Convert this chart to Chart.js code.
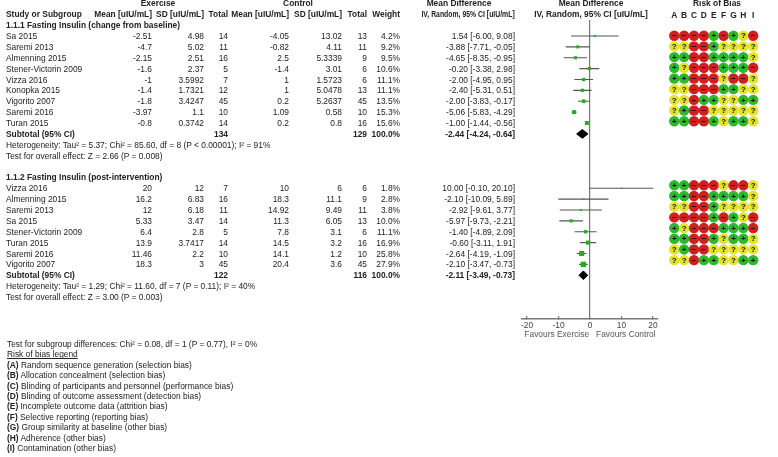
<!DOCTYPE html>
<html>
<head>
<meta charset="utf-8">
<script src="https://cdn.jsdelivr.net/npm/chart.js@4.4.1/dist/chart.umd.min.js"></script>
<style>
  html, body { margin: 0; padding: 0; background: #fff; }
  #wrap { position: relative; width: 778px; height: 457px; overflow: hidden;
          font-family: 'Liberation Sans', Arial, sans-serif; font-size: 8.4px; color: #222; }
  #plot { position: absolute; left: 0; top: 0; }
  #rob { position: absolute; left: 660px; top: 0; }
  .t { position: absolute; white-space: nowrap; line-height: 10px; }
  .b { font-weight: bold; }
  .u { text-decoration: underline; }
</style>
</head>
<body>
<div id="wrap">
  <canvas id="plot" width="778" height="457"></canvas>
  <canvas id="rob" width="110" height="319"></canvas>
</div>
<script>
// ---- subgroup 1.1.1 (change from baseline) ----
const sub1Study = ['Sa 2015', 'Saremi 2013', 'Almenning 2015', 'Stener-Victorin 2009', 'Vizza 2016',
                   'Konopka 2015', 'Vigorito 2007', 'Saremi 2016', 'Turan 2015'];
const sub1ExMean = [-2.51, -4.7, -2.15, -1.6, -1, -1.4, -1.8, -3.97, -0.8];
const sub1ExSD = [4.98, 5.02, 2.51, 2.37, 3.5992, 1.7321, 3.4247, 1.1, 0.3742];
const sub1ExN = [14, 11, 16, 5, 7, 12, 45, 10, 14];
const sub1CtMean = [-4.05, -0.82, 2.5, -1.4, 1, 1, 0.2, 1.09, 0.2];
const sub1CtSD = [13.02, 4.11, 5.3339, 3.01, 1.5723, 5.0478, 5.2637, 0.58, 0.8];
const sub1CtN = [13, 11, 9, 6, 6, 13, 45, 10, 16];
const sub1Weight = [4.2, 9.2, 9.5, 10.6, 11.1, 11.1, 13.5, 15.3, 15.6];
const sub1MD = [1.54, -3.88, -4.65, -0.20, -2.00, -2.40, -2.00, -5.06, -1.00];
const sub1Lo = [-6.00, -7.71, -8.35, -3.38, -4.95, -5.31, -3.83, -5.83, -1.44];
const sub1Hi = [9.08, -0.05, -0.95, 2.98, 0.95, 0.51, -0.17, -4.29, -0.56];
const sub1Total = [134, 129, -2.44, -4.24, -0.64];  // ex N, ctl N, MD, lo, hi
const sub1Het = 'Heterogeneity: Tau² = 5.37; Chi² = 85.60, df = 8 (P < 0.00001); I² = 91%';
const sub1Z = 'Test for overall effect: Z = 2.66 (P = 0.008)';

// ---- subgroup 1.1.2 (post-intervention) ----
const sub2Study = ['Vizza 2016', 'Almenning 2015', 'Saremi 2013', 'Sa 2015', 'Stener-Victorin 2009',
                   'Turan 2015', 'Saremi 2016', 'Vigorito 2007'];
const sub2ExMean = [20, 16.2, 12, 5.33, 6.4, 13.9, 11.46, 18.3];
const sub2ExSD = [12, 6.83, 6.18, 3.47, 2.8, 3.7417, 2.2, 3];
const sub2ExN = [7, 16, 11, 14, 5, 14, 10, 45];
const sub2CtMean = [10, 18.3, 14.92, 11.3, 7.8, 14.5, 14.1, 20.4];
const sub2CtSD = [6, 11.1, 9.49, 6.05, 3.1, 3.2, 1.2, 3.6];
const sub2CtN = [6, 9, 11, 13, 6, 16, 10, 45];
const sub2Weight = [1.8, 2.8, 3.8, 10.0, 11.1, 16.9, 25.8, 27.9];
const sub2MD = [10.00, -2.10, -2.92, -5.97, -1.40, -0.60, -2.64, -2.10];
const sub2Lo = [-0.10, -10.09, -9.61, -9.73, -4.89, -3.11, -4.19, -3.47];
const sub2Hi = [20.10, 5.89, 3.77, -2.21, 2.09, 1.91, -1.09, -0.73];
const sub2Total = [122, 116, -2.11, -3.49, -0.73];
const sub2Het = 'Heterogeneity: Tau² = 1.29; Chi² = 11.60, df = 7 (P = 0.11); I² = 40%';
const sub2Z = 'Test for overall effect: Z = 3.00 (P = 0.003)';

// ---- risk of bias ----
const biasDomain = ['A', 'B', 'C', 'D', 'E', 'F', 'G', 'H', 'I'];
const biasByStudy = {
  'Sa 2015': '----+-+?-',
  'Saremi 2013': '??--+????',
  'Almenning 2015': '++--++++?',
  'Stener-Victorin 2009': '+?---+++-',
  'Vizza 2016': '++---?--?',
  'Konopka 2015': '??---++??',
  'Vigorito 2007': '??-++??++',
  'Saremi 2016': '?+--?????',
  'Turan 2015': '++--+?++?'
};
const biasLegend = ['Random sequence generation (selection bias)', 'Allocation concealment (selection bias)',
  'Blinding of participants and personnel (performance bias)', 'Blinding of outcome assessment (detection bias)',
  'Incomplete outcome data (attrition bias)', 'Selective reporting (reporting bias)',
  'Group similarity at baseline (other bias)', 'Adherence (other bias)', 'Contamination (other bias)'];
const subgroupTest = 'Test for subgroup differences: Chi² = 0.08, df = 1 (P = 0.77), I² = 0%';
const xTicks = [-20, -10, 0, 10, 20];

// layout
const rowStep = 10.875;
const rowY = L => 36 + (L - 3) * rowStep;
const yMin = 3 - 16 / rowStep, yMax = yMin + 299 / rowStep;
const col = { name: 6, exM: 152, exSD: 204, exN: 228, ctM: 289, ctSD: 342, ctN: 367, w: 400, ci: 515 };
const biasColor = { '+': '#2eb82e', '-': '#cf1f1f', '?': '#e3e32a' };
const biasSign = { '+': '+', '-': '\u2212', '?': '?' };

const groups = [
  { title: '1.1.1 Fasting Insulin (change from baseline)', start: 2, study: sub1Study, exM: sub1ExMean, exSD: sub1ExSD,
    exN: sub1ExN, ctM: sub1CtMean, ctSD: sub1CtSD, ctN: sub1CtN, w: sub1Weight, md: sub1MD, lo: sub1Lo, hi: sub1Hi,
    tot: sub1Total, het: sub1Het, z: sub1Z },
  { title: '1.1.2 Fasting Insulin (post-intervention)', start: 16, study: sub2Study, exM: sub2ExMean, exSD: sub2ExSD,
    exN: sub2ExN, ctM: sub2CtMean, ctSD: sub2CtSD, ctN: sub2CtN, w: sub2Weight, md: sub2MD, lo: sub2Lo, hi: sub2Hi,
    tot: sub2Total, het: sub2Het, z: sub2Z }
];

// ---- text ----
const wrap = document.getElementById('wrap');
function put(txt, x, y, align, cls) {
  const s = document.createElement('span');
  s.className = 't' + (cls ? ' ' + cls : '');
  s.textContent = txt;
  s.style.left = x + 'px';
  s.style.top = (y - 5) + 'px';
  if (align === 'r') s.style.transform = 'translateX(-100%)';
  if (align === 'c') s.style.transform = 'translateX(-50%)';
  wrap.appendChild(s);
  return s;
}
const ci = (m, l, h) => m.toFixed(2) + ' [' + l.toFixed(2) + ', ' + h.toFixed(2) + ']';

put('Exercise', 158, rowY(0), 'c', 'b');
put('Control', 298, rowY(0), 'c', 'b');
put('Mean Difference', 459, rowY(0), 'c', 'b');
put('Mean Difference', 591, rowY(0), 'c', 'b');
put('Risk of Bias', 717, rowY(0), 'c', 'b');
put('Study or Subgroup', col.name, rowY(1), 'l', 'b');
put('Mean [uIU/mL]', col.exM, rowY(1), 'r', 'b');
put('SD [uIU/mL]', col.exSD, rowY(1), 'r', 'b');
put('Total', col.exN, rowY(1), 'r', 'b');
put('Mean [uIU/mL]', col.ctM, rowY(1), 'r', 'b');
put('SD [uIU/mL]', col.ctSD, rowY(1), 'r', 'b');
put('Total', col.ctN, rowY(1), 'r', 'b');
put('Weight', col.w, rowY(1), 'r', 'b');
// this header is squeezed into its column in the original
const ivHead = put('IV, Random, 95% CI [uIU/mL]', col.ci, rowY(1), 'r', 'b');
ivHead.style.left = 'auto';
ivHead.style.right = (778 - col.ci) + 'px';
ivHead.style.transformOrigin = '100% 50%';
ivHead.style.transform = 'scaleX(0.82)';
put('IV, Random, 95% CI [uIU/mL]', 591, rowY(1), 'c', 'b');

groups.forEach(g => {
  put(g.title, col.name, rowY(g.start), 'l', 'b');
  g.study.forEach((s, i) => {
    const y = rowY(g.start + 1 + i);
    put(s, col.name, y, 'l');
    put(String(g.exM[i]), col.exM, y, 'r');
    put(String(g.exSD[i]), col.exSD, y, 'r');
    put(String(g.exN[i]), col.exN, y, 'r');
    put(String(g.ctM[i]), col.ctM, y, 'r');
    put(String(g.ctSD[i]), col.ctSD, y, 'r');
    put(String(g.ctN[i]), col.ctN, y, 'r');
    put(g.w[i].toFixed(1) + '%', col.w, y, 'r');
    put(ci(g.md[i], g.lo[i], g.hi[i]), col.ci, y, 'r');
  });
  const L = g.start + 1 + g.study.length;
  put('Subtotal (95% CI)', col.name, rowY(L), 'l', 'b');
  put(String(g.tot[0]), col.exN, rowY(L), 'r', 'b');
  put(String(g.tot[1]), col.ctN, rowY(L), 'r', 'b');
  put('100.0%', col.w, rowY(L), 'r', 'b');
  put(ci(g.tot[2], g.tot[3], g.tot[4]), col.ci, rowY(L), 'r', 'b');
  put(g.het, col.name, rowY(L + 1), 'l');
  put(g.z, col.name, rowY(L + 2), 'l');
});

put(subgroupTest, 7, 344, 'l');
put('Risk of bias legend', 7, 354.3, 'l', 'u');
biasLegend.forEach((t, i) => {
  const s = put('', 7, 364.7 + i * 10.4, 'l');
  s.innerHTML = '<b>(' + biasDomain[i] + ')</b> ' + t;
});

// ---- forest plot ----
const ciPts = [], sqPts = [], diamonds = [], robPts = [];
const dh = 0.4;
groups.forEach(g => {
  g.study.forEach((s, i) => {
    const L = g.start + 1 + i;
    ciPts.push({ x: g.lo[i], y: L }, { x: g.hi[i], y: L }, { x: null, y: null });
    sqPts.push({ x: g.md[i], y: L, w: g.w[i] });
    biasByStudy[s].split('').forEach((c, k) => robPts.push({ x: k, y: L, c: c }));
  });
  const L = g.start + 1 + g.study.length;
  const [, , m, lo, hi] = g.tot;
  diamonds.push([{ x: lo, y: L }, { x: m, y: L - dh }, { x: hi, y: L }, { x: m, y: L + dh }, { x: lo, y: L }]);
});

const fontAxis = { family: "'Liberation Sans', Arial, sans-serif", size: 8.4 };

new Chart(document.getElementById('plot'), {
  type: 'scatter',
  data: {
    datasets: [
      { data: sqPts, pointStyle: 'rect', backgroundColor: '#22b022', borderWidth: 0,
        pointRadius: ctx => Math.sqrt(ctx.raw.w) * 0.72 },
      { data: ciPts, showLine: true, borderColor: '#555', borderWidth: 1.2, pointRadius: 0 },
      ...diamonds.map(d => ({ data: d, showLine: true, fill: 'shape', backgroundColor: '#000',
        borderColor: '#000', borderWidth: 1, pointRadius: 0 }))
    ]
  },
  options: {
    responsive: false, animation: false, events: [], devicePixelRatio: 1,
    layout: { padding: { left: 522, right: 120, top: 20, bottom: 112 } },
    plugins: { legend: { display: false }, tooltip: { enabled: false } },
    scales: {
      x: {
        type: 'linear', min: -21.6, max: 21.6,
        afterBuildTicks: s => { s.ticks = xTicks.map(v => ({ value: v })); },
        afterFit: s => { s.height = 26; },
        grid: { drawOnChartArea: true, tickLength: -3, tickColor: '#777', lineWidth: 1.2,
                color: c => c.tick && c.tick.value === 0 ? '#777' : 'rgba(0,0,0,0)' },
        border: { display: true, color: '#777', width: 1.5 },
        ticks: { color: '#444', font: fontAxis, padding: 5, maxRotation: 0 },
        title: { display: true, text: 'Favours Exercise   Favours Control', color: '#555',
                 font: fontAxis, padding: { top: 0, bottom: 5 } }
      },
      y: { type: 'linear', display: false, reverse: true, min: yMin, max: yMax }
    }
  }
});

// ---- risk of bias grid ----
const robSigns = {
  id: 'robSigns',
  afterDatasetsDraw(chart) {
    const ctx = chart.ctx;
    const meta = chart.getDatasetMeta(0);
    ctx.save();
    ctx.font = "bold 8px 'Liberation Sans', Arial, sans-serif";
    ctx.textAlign = 'center';
    ctx.textBaseline = 'middle';
    ctx.fillStyle = '#111';
    meta.data.forEach((p, j) => ctx.fillText(biasSign[robPts[j].c], p.x, p.y + 0.5));
    ctx.restore();
  }
};
const robStep = 10.9;
new Chart(document.getElementById('rob'), {
  type: 'scatter',
  data: {
    datasets: [{ data: robPts, pointRadius: 5.2, borderWidth: 0,
      backgroundColor: ctx => biasColor[ctx.raw.c] }]
  },
  options: {
    responsive: false, animation: false, events: [], devicePixelRatio: 1,
    layout: { padding: 0 },
    plugins: { legend: { display: false }, tooltip: { enabled: false } },
    scales: {
      x: {
        type: 'linear', position: 'top', min: -10 / robStep, max: -10 / robStep + 110 / robStep,
        afterBuildTicks: s => { s.ticks = biasDomain.map((d, i) => ({ value: i })); },
        afterFit: s => { s.height = 20; },
        grid: { display: false }, border: { display: false },
        ticks: { padding: -9, color: '#222', maxRotation: 0, autoSkip: false,
                 font: { family: "'Liberation Sans', Arial, sans-serif", size: 8.4, weight: 'bold' },
                 callback: v => biasDomain[v] }
      },
      y: { type: 'linear', display: false, reverse: true, min: yMin, max: yMax }
    }
  },
  plugins: [robSigns]
});
</script>
</body>
</html>
